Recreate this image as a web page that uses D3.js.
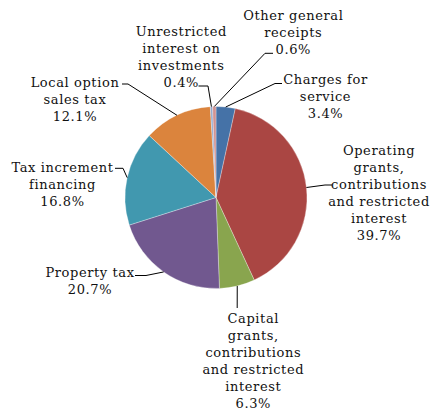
<!DOCTYPE html>
<html>
<head>
<meta charset="utf-8">
<script src="https://cdn.jsdelivr.net/npm/d3@7"></script>
<style>
  html, body { margin: 0; padding: 0; background: #fff; }
  .label { font-family: "DejaVu Serif", serif; font-size: 13px; letter-spacing: 0.6px; fill: #111; }
</style>
</head>
<body>
<div id="chart"></div>
<script>
// slices, clockwise from 12 o'clock
const categories = [
  'Charges for service',
  'Operating grants, contributions and restricted interest',
  'Capital grants, contributions and restricted interest',
  'Property tax',
  'Tax increment financing',
  'Local option sales tax',
  'Unrestricted interest on investments',
  'Other general receipts',
];
const shares = [3.4, 39.7, 6.3, 20.7, 16.8, 12.1, 0.4, 0.6];
const labelLines = [
  ['Charges for', 'service', '3.4%'],
  ['Operating', 'grants,', 'contributions', 'and restricted', 'interest', '39.7%'],
  ['Capital', 'grants,', 'contributions', 'and restricted', 'interest', '6.3%'],
  ['Property tax', '20.7%'],
  ['Tax increment', 'financing', '16.8%'],
  ['Local option', 'sales tax', '12.1%'],
  ['Unrestricted', 'interest on', 'investments', '0.4%'],
  ['Other general', 'receipts', '0.6%'],
];
const colors = ['#4572a7', '#aa4643', '#89a54e', '#71588f', '#4198af', '#db843d', '#93a9cf', '#d19392'];

const width = 432;
const height = 413;
const cx = 216;
const cy = 197.5;
const radius = 91;
const lineHeight = 17;

// hand placed label boxes: text centre x, first baseline y, leader elbow and end
const labelLayout = [
  { x: 325.5, y: 84, elbow: [275, 83.5], end: [282, 83.5] },
  { x: 379, y: 154.5, elbow: [325, 185], end: [332, 185] },
  { x: 253.3, y: 323.3, elbow: [237.2, 308], end: [237.2, 308] },
  { x: 90, y: 276.7, elbow: [146, 275.5], end: [135, 275.5] },
  { x: 62.5, y: 171.7, elbow: [123, 168.3], end: [115, 168.3] },
  { x: 75, y: 86.7, elbow: [128, 84], end: [122, 84] },
  { x: 181.3, y: 36, elbow: [208, 86], end: [198.5, 86] },
  { x: 293.3, y: 20, elbow: [265, 53.3], end: [273, 53.3] },
];

const svg = d3.select('#chart')
  .append('svg')
  .attr('width', width)
  .attr('height', height);

const pie = d3.pie().sort(null).value(d => d)(shares);

const arc = d3.arc().innerRadius(0).outerRadius(radius);
const edge = d3.arc().innerRadius(radius).outerRadius(radius);

const g = svg.append('g').attr('transform', `translate(${cx}, ${cy})`);

g.selectAll('path.slice')
  .data(pie)
  .enter()
  .append('path')
  .attr('class', 'slice')
  .attr('d', arc)
  .attr('fill', (d, i) => colors[i])
  .attr('stroke', '#ffffff')
  .attr('stroke-opacity', 0.6)
  .attr('stroke-width', 0.5);

// leader lines
svg.selectAll('path.leader')
  .data(pie)
  .enter()
  .append('path')
  .attr('class', 'leader')
  .attr('fill', 'none')
  .attr('stroke', '#000')
  .attr('stroke-width', 1)
  .attr('d', (d, i) => {
    const p = edge.centroid(d);
    const lay = labelLayout[i];
    return d3.line()([[p[0] + cx, p[1] + cy], lay.elbow, lay.end]);
  });

// labels
const labels = svg.selectAll('text.label')
  .data(pie)
  .enter()
  .append('text')
  .attr('class', 'label')
  .attr('text-anchor', 'middle')
  .attr('x', (d, i) => labelLayout[i].x)
  .attr('y', (d, i) => labelLayout[i].y);

labels.each(function (d, i) {
  const t = d3.select(this);
  labelLines[i].forEach((line, j) => {
    t.append('tspan')
      .attr('x', labelLayout[i].x)
      .attr('dy', j === 0 ? 0 : lineHeight)
      .text(line);
  });
});
</script>
</body>
</html>
